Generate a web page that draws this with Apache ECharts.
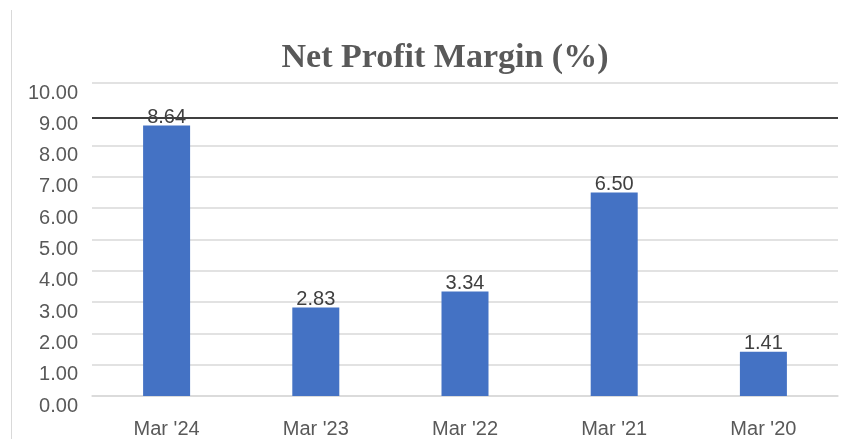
<!DOCTYPE html>
<html>
<head>
<meta charset="utf-8">
<script src="https://cdn.jsdelivr.net/npm/echarts@6/dist/echarts.min.js"></script>
<style>
  html, body { margin: 0; padding: 0; background: #fff; }
  #chart { position: absolute; left: 0; top: 0; width: 851px; height: 439px; }
  #frame { position: absolute; left: 11px; top: 10px; bottom: 0; border-left: 1px solid #d9d9d9; }
</style>
</head>
<body>
<div id="frame"></div>
<div id="chart"></div>
<script>
const periods = ["Mar '24", "Mar '23", "Mar '22", "Mar '21", "Mar '20"];
const margins = [8.64, 2.83, 3.34, 6.5, 1.41];
const refLine = 8.9;

// the 9.00 gridline is covered by the dark reference line in the original
const gridColors = ["#d9d9d9", "#d9d9d9", "#d9d9d9", "#d9d9d9", "#d9d9d9",
  "#d9d9d9", "#d9d9d9", "#d9d9d9", "#d9d9d9", "rgba(0,0,0,0)", "#d9d9d9"];

const chart = echarts.init(document.getElementById("chart"));

const option = {
  animation: false,
  title: {
    text: "Net Profit Margin (%)",
    left: 445,
    top: 41,
    padding: 0,
    textAlign: "center",
    textStyle: {
      fontFamily: "Liberation Serif",
      fontWeight: "bold",
      fontSize: 34,
      color: "#595959",
    },
  },
  grid: {
    left: 92,
    right: 13,
    top: 83,
    bottom: 41,
    containLabel: false,
  },
  xAxis: {
    type: "category",
    data: periods,
    axisLine: { lineStyle: { color: "#d9d9d9", width: 1.5 } },
    axisTick: { show: false },
    axisLabel: {
      margin: 23,
      fontFamily: "Liberation Sans",
      fontSize: 20,
      color: "#595959",
    },
  },
  yAxis: {
    type: "value",
    min: 0,
    max: 10,
    interval: 1,
    axisLine: { show: false },
    axisTick: { show: false },
    axisLabel: {
      margin: 14,
      verticalAlign: "top",
      fontFamily: "Liberation Sans",
      fontSize: 20,
      color: "#595959",
      formatter: (v) => v.toFixed(2),
    },
    splitLine: { lineStyle: { color: gridColors, width: 1.5 } },
  },
  series: [
    {
      name: "Net Profit Margin",
      type: "bar",
      data: margins,
      barWidth: 47,
      itemStyle: { color: "#4472C4" },
      label: {
        show: true,
        position: "top",
        distance: -2,
        fontFamily: "Liberation Sans",
        fontSize: 20,
        color: "#404040",
        formatter: (p) => p.value.toFixed(2),
      },
      markLine: {
        silent: true,
        symbol: "none",
        label: { show: false },
        lineStyle: { color: "#404040", width: 2, type: "solid" },
        data: [{ yAxis: refLine }],
      },
    },
  ],
};

chart.setOption(option);
</script>
</body>
</html>
